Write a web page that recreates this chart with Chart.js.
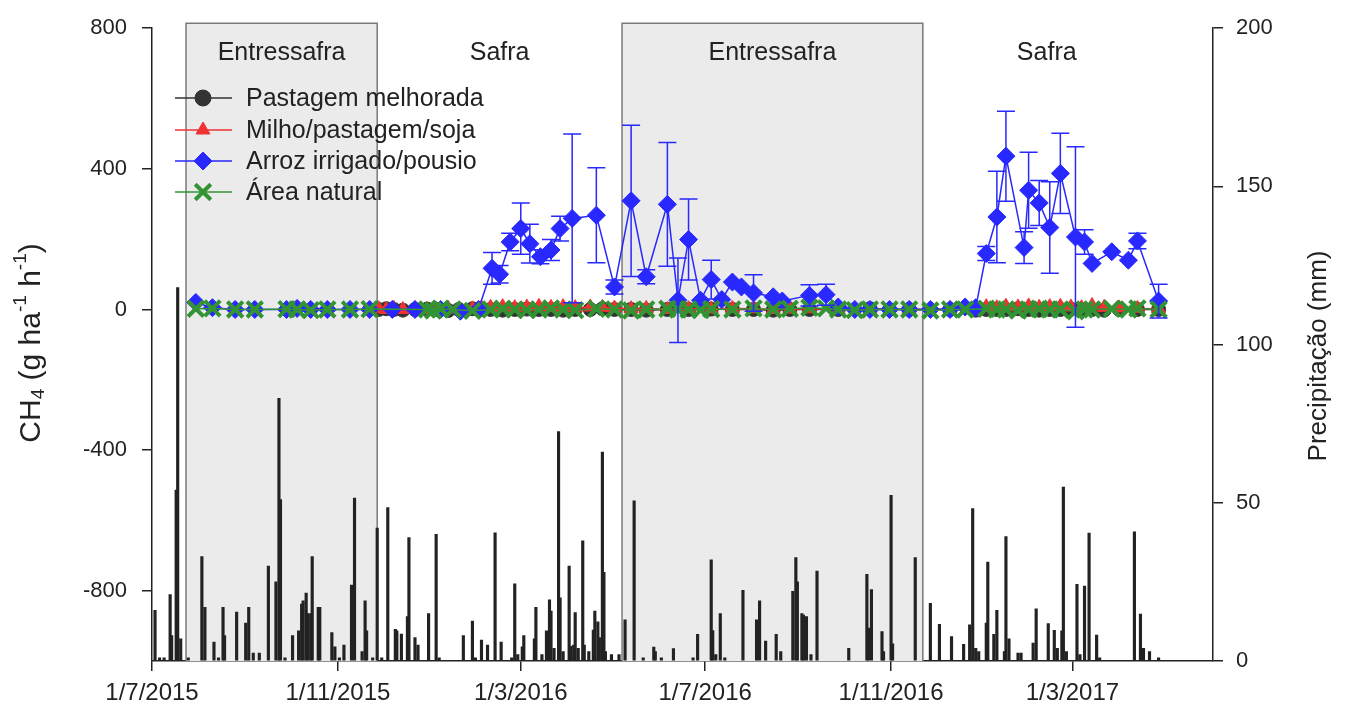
<!DOCTYPE html>
<html>
<head>
<meta charset="utf-8">
<script src="https://cdn.jsdelivr.net/npm/chart.js@4.4.0/dist/chart.umd.min.js"></script>
<style>
  html, body { margin: 0; padding: 0; background: #fff; }
  #wrap { width: 1350px; height: 709px; }
</style>
</head>
<body>
<div id="wrap"><canvas id="grafico" width="1350" height="709"></canvas></div>
<script>
// all x values are days counted from 1/7/2015
const DIA = 86400000;
const origem = Date.UTC(2015, 6, 1);

const rotulosX = ["1/7/2015", "1/11/2015", "1/3/2016", "1/7/2016", "1/11/2016", "1/3/2017"];
const fimEixoX = 702;

const ticksCH4 = [-800, -400, 0, 400, 800];
const ticksChuva = [0, 50, 100, 150, 200];

// periods (start day, end day)
const entressafraInicio = [22.5, 311];
const entressafraFim = [149, 510];
const safraInicio = [149, 510];
const safraFim = [311, 674];

// Arroz irrigado/pousio
const arrozDias = [
  29, 40, 55, 68, 89, 96, 105, 116, 131, 144,
  159, 174, 191, 204, 216, 225, 230, 237, 244, 250,
  257, 264, 270, 278, 294, 306, 317, 327, 341, 348,
  355, 363, 370, 377, 384, 390, 398, 411, 417, 435,
  446, 454, 465, 475, 488, 501, 515, 528, 538, 545,
  552, 559, 565, 577, 580, 587, 594, 601, 611, 617,
  622, 635, 646, 652, 666
];
const arrozCH4 = [
  20, 5, 0, 0, 0, 3, 0, 0, 0, 0,
  0, 0, 0, -5, 0, 117, 100, 192, 230, 187,
  150, 169, 230, 259, 268, 64, 309, 93, 299, 26,
  199, 26, 85, 28, 78, 64, 47, 36, 24, 40,
  42, 7, 0, 0, 0, 0, 0, 0, 7, 5,
  159, 263, 436, 176, 339, 303, 233, 387, 206, 192,
  131, 164, 140, 195, 24
];
const arrozErro = [
  0, 0, 0, 0, 0, 0, 0, 0, 0, 0,
  0, 0, 0, 0, 0, 45, 25, 25, 73, 55,
  20, 30, 35, 240, 135, 20, 215, 20, 176, 120,
  115, 0, 55, 0, 0, 0, 52, 0, 0, 30,
  30, 0, 0, 0, 0, 0, 0, 0, 0, 0,
  20, 130, 128, 45, 108, 64, 130, 114, 257, 35,
  0, 0, 0, 22, 48
];

// Área natural
const naturalDias = [
  29, 40, 55, 68, 89, 96, 105, 116, 131, 144,
  182, 186, 191, 199, 212, 224, 232, 240, 248,
  256, 264, 272, 280, 294, 306, 317, 327, 341, 348,
  355, 363, 370, 384, 398, 411, 422, 435, 446, 454,
  465, 475, 488, 501, 515, 528, 538, 552, 559, 565,
  573, 580, 587, 594, 601, 611, 617, 622, 635, 646,
  652, 666
];
const naturalCH4 = [
  2, 3, 0, 0, 1, 0, -2, 0, 0, 1,
  0, -3, 2, 0, -4, 0, 2, 0, -2,
  0, 3, 0, -2, 2, 0, -3, 0, 2, 0,
  0, -2, 1, 0, 3, 0, 2, 5, 3, 0,
  -2, 0, 0, 0, -3, 0, 0, 2, 0, 0,
  -3, 0, 2, 0, 0, -5, 0, 0, 2, 0,
  3, 0
];

// Pastagem melhorada e Milho/pastagem/soja (same sampling days)
const cultivoDias = [
  150, 155, 160, 166, 174, 182, 188, 196, 203, 212,
  218, 224, 232, 240, 248, 256, 264, 272, 280, 290,
  298, 306, 317, 327, 341, 355, 370, 384, 398, 411,
  422, 435, 454, 475, 501, 528, 545, 552, 559, 565,
  573, 580, 587, 594, 601, 608, 615, 622, 630, 640,
  652, 666
];
const pastagemCH4 = [
  0, 2, 0, -2, 0, 1, 0, -3, 0, 2,
  0, 0, -2, 0, 1, 0, 0, -2, 0, 0,
  2, 0, 0, -2, 0, 0, 1, 0, 0, -2,
  0, 0, 0, 2, 0, 0, -2, 0, 0, 0,
  2, 0, -2, 0, 0, 1, 0, 0, -2, 0,
  0, 0
];
const milhoCH4 = [
  2, 0, 3, 0, 2, 0, 0, 3, 0, 2,
  4, 6, 8, 5, 7, 9, 6, 8, 5, 7,
  6, 4, 2, 3, 0, 2, 1, 3, 2, 0,
  1, 2, 0, 1, 0, 2, 6, 8, 5, 9,
  7, 10, 6, 8, 9, 7, 5, 11, 6, 4,
  3, 2
];

// daily rainfall (mm)
const chuvaDias = [
  2, 5, 8, 12, 13, 16, 17, 19, 24, 33,
  35, 41, 44, 47, 48, 56, 62, 64, 67, 71,
  77, 82, 84, 85, 88, 93, 97, 99, 100, 102,
  103, 105, 106, 110, 111, 119, 121, 124, 127, 132,
  134, 139, 141, 142, 146, 149, 152, 156, 161, 162,
  165, 169, 170, 174, 176, 183, 188, 190, 206, 212,
  214, 218, 222, 227, 231, 238, 240, 242, 245, 246,
  253, 254, 258, 261, 263, 264, 266, 269, 270, 272,
  276, 277, 279, 280, 282, 285, 286, 289, 292, 293,
  295, 296, 298, 299, 300, 304, 309, 313, 319, 325,
  332, 333, 337, 345, 358, 361, 370, 371, 373, 376,
  379, 391, 400, 402, 406, 413, 416, 424, 426, 427,
  430, 431, 433, 436, 440, 461, 473, 474, 476, 483,
  484, 489, 490, 505, 515, 521, 529, 537, 541, 543,
  545, 547, 552, 553, 557, 559, 564, 565, 567, 573,
  575, 583, 585, 593, 597, 599, 602, 603, 605, 612,
  614, 617, 620, 625, 627, 650, 654, 656, 660, 666
];
const chuvaMm = [
  16, 1, 1, 21, 8, 54, 118, 7, 1, 33,
  17, 6, 1, 17, 8, 15.5, 12, 17, 2.5, 2.5,
  30, 25, 83, 51, 1, 8, 9.5, 18, 19, 21.5,
  15, 15, 33, 17, 17, 9, 4.5, 1, 5, 24,
  51.5, 3, 19, 9.5, 1, 42, 1, 48.5, 10, 9.5,
  8.5, 14, 39, 7.4, 5, 15, 40, 1, 8, 12.6,
  1, 6.6, 5, 40.5, 6, 1, 24.4, 2, 4.5, 8,
  7, 17, 2, 9.5, 19.3, 15.8, 4, 72.5, 20, 3,
  30, 4.6, 5, 15.3, 4, 38, 5, 3, 9.8, 15.8,
  12.4, 7.4, 66, 28, 3, 2, 2, 13, 50.6, 1,
  4.4, 3, 1, 3.9, 1, 8.4, 32, 9.6, 2, 15,
  1, 22.3, 13, 19, 6.3, 8.4, 3, 22, 32.7, 25,
  15, 14.5, 14, 2, 28.4, 4, 27.4, 10.4, 22.6, 9.3,
  3, 52.4, 5.4, 32.7, 18.2, 11.6, 7.7, 5.3, 11.4, 48.2,
  4, 3, 12, 31.3, 8.4, 16, 3, 39.3, 7, 2.5,
  2.5, 5.7, 16.5, 11.8, 9.7, 4, 9.5, 55, 3, 24.2,
  2, 23.7, 40.4, 8.2, 1, 40.8, 14.8, 4, 3, 1
];

function diaDe(rotulo) {
  const [d, m, a] = rotulo.split("/").map(Number);
  return (Date.UTC(a, m - 1, d) - origem) / DIA;
}
const diasTicksX = rotulosX.map(diaDe);

function pontos(dias, valores) {
  return dias.map((d, i) => ({ x: d, y: valores[i] }));
}

const FONTE = "'Liberation Sans', Arial, sans-serif";
const TEXTO = "#222";

const cores = {
  pastagem: "#333333",
  milho: "#f03232",
  arroz: "#2828ff",
  natural: "#339433",
};

// shaded periods behind the data
const periodosPlugin = {
  id: "periodos",
  beforeDatasetsDraw(chart) {
    const { ctx, chartArea, scales } = chart;
    ctx.save();
    for (let i = 0; i < entressafraInicio.length; i++) {
      const x0 = scales.x.getPixelForValue(entressafraInicio[i]);
      const x1 = scales.x.getPixelForValue(entressafraFim[i]);
      const top = chartArea.top - 5;
      ctx.fillStyle = "#ebebeb";
      ctx.fillRect(x0, top, x1 - x0, chartArea.bottom - top);
      ctx.strokeStyle = "#7a7a7a";
      ctx.lineWidth = 1.5;
      ctx.beginPath();
      ctx.moveTo(x0, chartArea.bottom);
      ctx.lineTo(x0, top);
      ctx.lineTo(x1, top);
      ctx.lineTo(x1, chartArea.bottom);
      ctx.stroke();
    }
    ctx.fillStyle = TEXTO;
    ctx.font = "25px " + FONTE;
    ctx.textAlign = "center";
    ctx.textBaseline = "middle";
    for (let i = 0; i < entressafraInicio.length; i++) {
      const xm = scales.x.getPixelForValue((entressafraInicio[i] + entressafraFim[i]) / 2);
      ctx.fillText("Entressafra", xm, 53);
    }
    for (let i = 0; i < safraInicio.length; i++) {
      const xm = scales.x.getPixelForValue((safraInicio[i] + safraFim[i]) / 2);
      ctx.fillText("Safra", xm, 53);
    }
    ctx.restore();
  },
};

// error bars of the rice series, legend and axis titles
const extrasPlugin = {
  id: "extras",
  afterDatasetsDraw(chart) {
    const { ctx, scales } = chart;
    const meta = chart.getDatasetMeta(2);
    ctx.save();
    ctx.strokeStyle = cores.arroz;
    ctx.lineWidth = 1.5;
    meta.data.forEach((p, i) => {
      const e = arrozErro[i];
      if (!e) return;
      const yt = scales.y.getPixelForValue(arrozCH4[i] + e);
      const yb = scales.y.getPixelForValue(arrozCH4[i] - e);
      ctx.beginPath();
      ctx.moveTo(p.x, yt);
      ctx.lineTo(p.x, yb);
      ctx.moveTo(p.x - 9, yt);
      ctx.lineTo(p.x + 9, yt);
      ctx.moveTo(p.x - 9, yb);
      ctx.lineTo(p.x + 9, yb);
      ctx.stroke();
    });
    ctx.restore();
  },
  afterDraw(chart) {
    const ctx = chart.ctx;
    ctx.save();
    // legend
    const ys = [98, 130, 161, 192];
    [0, 1, 2, 3].forEach((idx, k) => {
      const ds = chart.data.datasets[idx];
      const y = ys[k];
      ctx.strokeStyle = ds.borderColor;
      ctx.lineWidth = 1.5;
      ctx.beginPath();
      ctx.moveTo(175, y);
      ctx.lineTo(232, y);
      ctx.stroke();
      ctx.fillStyle = ds.pointBackgroundColor;
      ctx.strokeStyle = ds.pointBorderColor;
      ctx.lineWidth = ds.pointBorderWidth;
      Chart.helpers.drawPoint(ctx, {
        pointStyle: ds.pointStyle,
        radius: ds.pointStyle === "circle" ? 8 : ds.pointRadius,
        borderWidth: ds.pointBorderWidth,
        rotation: 0,
      }, 203, y);
      ctx.fillStyle = TEXTO;
      ctx.font = "25px " + FONTE;
      ctx.textAlign = "left";
      ctx.textBaseline = "middle";
      ctx.fillText(ds.label, 246, y + 1);
    });

    // left title with sub/superscripts
    const partes = [
      { t: "CH", s: 30, dy: 0 },
      { t: "4", s: 19, dy: 7 },
      { t: " (g ha", s: 30, dy: 0 },
      { t: "-1", s: 19, dy: -11 },
      { t: " h", s: 30, dy: 0 },
      { t: "-1", s: 19, dy: -11 },
      { t: ")", s: 30, dy: 0 },
    ];
    let total = 0;
    partes.forEach(p => { ctx.font = p.s + "px " + FONTE; p.w = ctx.measureText(p.t).width; total += p.w; });
    ctx.translate(32, 343);
    ctx.rotate(-Math.PI / 2);
    ctx.fillStyle = TEXTO;
    ctx.textAlign = "left";
    ctx.textBaseline = "middle";
    let xx = -total / 2;
    partes.forEach(p => {
      ctx.font = p.s + "px " + FONTE;
      ctx.fillText(p.t, xx, p.dy);
      xx += p.w;
    });
    ctx.setTransform(1, 0, 0, 1, 0, 0);

    // right title
    ctx.translate(1319, 356);
    ctx.rotate(-Math.PI / 2);
    ctx.font = "26px " + FONTE;
    ctx.textAlign = "center";
    ctx.fillText("Precipitação (mm)", 0, 0);
    ctx.restore();
  },
};

function eixo() {
  return {
    grid: { drawOnChartArea: false, drawTicks: true, tickLength: 10, color: "#222", lineWidth: 1.5, offset: false },
    border: { display: true, color: "#222", width: 1.5 },
  };
}

function linha(label, dias, valores, cor, estilo, raio, extra) {
  return Object.assign({
    type: "line",
    label: label,
    data: pontos(dias, valores),
    borderColor: cor,
    backgroundColor: cor,
    pointBackgroundColor: cor,
    pointBorderColor: cor,
    pointStyle: estilo,
    pointRadius: raio,
    pointBorderWidth: 1,
    borderWidth: 1.5,
    xAxisID: "x",
    yAxisID: "y",
  }, extra || {});
}

const grafico = new Chart(document.getElementById("grafico"), {
  type: "line",
  data: {
    datasets: [
      linha("Pastagem melhorada", cultivoDias, pastagemCH4, cores.pastagem, "circle", 7, { order: 4 }),
      linha("Milho/pastagem/soja", cultivoDias, milhoCH4, cores.milho, "triangle", 8, { order: 3 }),
      linha("Arroz irrigado/pousio", arrozDias, arrozCH4, cores.arroz, "rectRot", 9, { order: 2 }),
      linha("Área natural", naturalDias, naturalCH4, cores.natural, "crossRot", 11, { order: 1, pointBorderWidth: 4 }),
      {
        type: "bar",
        label: "Precipitação",
        data: pontos(chuvaDias, chuvaMm),
        backgroundColor: "#222222",
        barThickness: 2.5,
        xAxisID: "x",
        yAxisID: "y2",
        order: 5,
      },
    ],
  },
  options: {
    responsive: false,
    devicePixelRatio: 1,
    animation: false,
    layout: { padding: { top: 28, left: 0, right: 0, bottom: 0 } },
    plugins: { legend: { display: false }, tooltip: { enabled: false } },
    scales: {
      x: Object.assign(eixo(), {
        type: "linear",
        position: "bottom",
        min: 0,
        max: fimEixoX,
        offset: false,
        afterBuildTicks: s => { s.ticks = diasTicksX.map(v => ({ value: v })); },
        afterFit: s => { s.height = 48; },
        ticks: {
          autoSkip: false,
          maxRotation: 0,
          padding: 8,
          color: TEXTO,
          font: { family: FONTE, size: 24 },
          callback: v => rotulosX[diasTicksX.indexOf(v)],
        },
      }),
      y: Object.assign(eixo(), {
        type: "linear",
        position: "left",
        min: -1000,
        max: 800,
        afterBuildTicks: s => { s.ticks = ticksCH4.map(v => ({ value: v })); },
        afterFit: s => { s.width = 152; },
        ticks: { padding: 15, color: TEXTO, font: { family: FONTE, size: 22 } },
      }),
      y2: Object.assign(eixo(), {
        type: "linear",
        position: "right",
        min: 0,
        max: 200,
        afterBuildTicks: s => { s.ticks = ticksChuva.map(v => ({ value: v })); },
        afterFit: s => { s.width = 137; },
        ticks: { padding: 13, color: TEXTO, font: { family: FONTE, size: 22 } },
      }),
    },
  },
  plugins: [periodosPlugin, extrasPlugin],
});
</script>
</body>
</html>
